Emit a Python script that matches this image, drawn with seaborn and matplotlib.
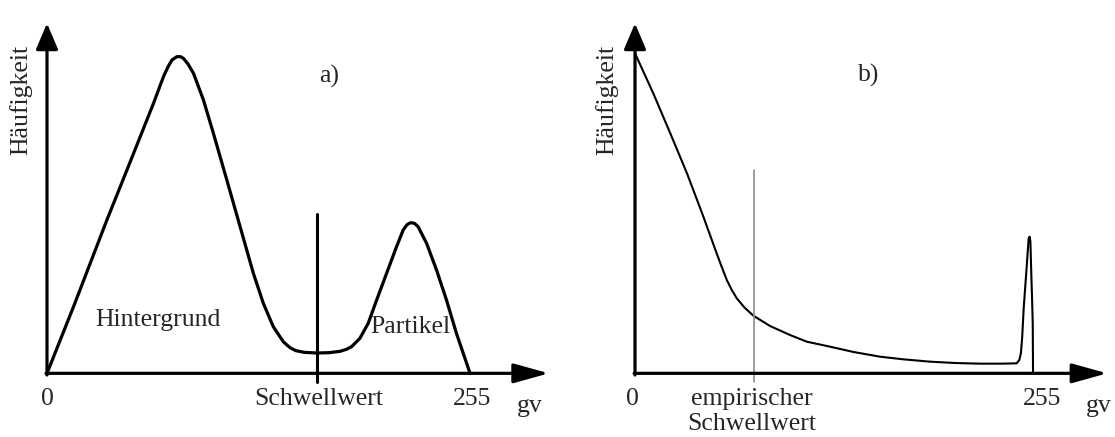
import matplotlib
matplotlib.use("Agg")
import matplotlib.pyplot as plt
import seaborn as sns
import pandas as pd

# panel a) bimodal histogram (gv, Häufigkeit)
a_gv = [0, 16, 36.1, 48.2, 56.2, 64.2, 70.2, 73, 75.3, 78.3, 80.5, 82.2, 85, 88.3,
        94.3, 100.3, 108.4, 116.4, 124.4, 130.4, 136.4, 142.4, 146.5, 150, 155,
        162.5, 170, 176.6, 180.5, 183.6, 188.6, 193.6, 198.7, 204.7, 210.7, 214.7,
        217, 219.1, 221.5, 223.7, 228.8, 234.8, 240.8, 246.8, 255]
a_h = [0, 20, 46, 61, 71, 81, 89, 92, 94, 95, 95, 94.5, 92.8, 90,
       82, 72, 58, 44, 30, 21, 14, 9.5, 7.7, 6.8, 6.3,
       6.1, 6.2, 6.6, 7.2, 8, 10.5, 15, 22, 30, 38, 43,
       44.6, 45.2, 45, 44, 39, 31, 22, 12, 0]
a_thresh_gv = [162.5, 162.5]
a_thresh_h = [47.7, -2.5]

# panel b) unimodal histogram with a narrow peak near 255
b_gv = [0, 11.7, 22.6, 33.3, 43.8, 52.3, 55.5, 58.8, 62, 65.2, 70, 75.8, 86.5,
        99.3, 110, 124.9, 140, 156.9, 172, 189, 205, 221, 235, 244.5, 246.2,
        247.2, 248, 249, 250, 250.7, 251.5, 252.2, 252.8, 253.3, 253.9, 254.4,
        254.8, 255]
b_h = [96, 84, 72, 60, 47, 36, 32, 28, 25, 22.5, 19.8, 17.3, 14.2,
       11.5, 9.5, 8, 6.4, 5, 4.2, 3.5, 3.1, 2.9, 2.9, 3, 4,
       6, 10.5, 19.5, 26, 30.5, 36, 40.5, 41, 39.5, 29.5, 22,
       15, 0]
b_thresh_gv = [76.5, 76.5]
b_thresh_h = [61, -2.5]

sns.set_style("white")
plt.rcParams['font.family'] = ['Liberation Serif', 'DejaVu Serif']
fs = 18.5

fig = plt.figure(figsize=(11.15, 4.37), dpi=100)
W, H = 1115.0, 437.0
# axes placed so that gv 0 sits at the drawn origin (pixel layout of the sketch)
ax_a = fig.add_axes([30.4 / W, 37 / H, (553.0 - 30.4) / W, 400 / H])
ax_b = fig.add_axes([619.4 / W, 37 / H, (1111.1 - 619.4) / W, 400 / H])

def draw_axes(ax):
    ax.set_xlim(-10, 305)
    ax.set_ylim(-8, 112)
    ax.axis("off")
    xarrow = dict(arrowstyle="-|>,head_length=0.54,head_width=0.15", lw=2.3,
                  color="black", mutation_scale=40, shrinkA=0, shrinkB=0)
    yarrow = dict(arrowstyle="-|>,head_length=0.40,head_width=0.17", lw=2.3,
                  color="black", mutation_scale=40, shrinkA=0, shrinkB=0)
    ax.annotate("", xy=(302.5, 0), xytext=(-0.6, 0), arrowprops=xarrow)
    ax.annotate("", xy=(0, 105), xytext=(0, -0.5), arrowprops=yarrow)

draw_axes(ax_a)
draw_axes(ax_b)

df_a = pd.DataFrame({"gv": a_gv, "h": a_h})
sns.lineplot(data=df_a, x="gv", y="h", ax=ax_a, color="black", lw=2.3,
             sort=False, estimator=None)
ax_a.plot(a_thresh_gv, a_thresh_h, color="black", lw=2.2, clip_on=False)

df_b = pd.DataFrame({"gv": b_gv, "h": b_h})
sns.lineplot(data=df_b, x="gv", y="h", ax=ax_b, color="black", lw=1.5,
             sort=False, estimator=None)
ax_b.plot(b_thresh_gv, b_thresh_h, color="#8c8c8c", lw=1.2, clip_on=False)

# texts panel a
ax_a.text(0, -4.5, "0", ha="center", va="top", fontsize=fs)
ax_a.text(164, -4.5, "Schwellwert", ha="center", va="top", fontsize=fs)
ax_a.text(256.3, -4.5, "255", ha="center", va="top", fontsize=fs)
ax_a.text(291, -6.5, "gv", ha="center", va="top", fontsize=fs)
ax_a.text(170, 89, "a)", ha="center", va="center", fontsize=fs)
ax_a.text(66.6, 16, "Hintergrund", ha="center", va="center", fontsize=fs)
ax_a.text(219.3, 14, "Partikel", ha="center", va="center", fontsize=fs)
ax_a.text(-16, 82, "Häufigkeit", ha="center", va="center", rotation=90, fontsize=fs)

# texts panel b
ax_b.text(-1.5, -4.5, "0", ha="center", va="top", fontsize=fs)
ax_b.text(75, -4.5, "empirischer\nSchwellwert", ha="center", va="top",
          fontsize=fs, linespacing=1.15)
ax_b.text(260.6, -4.5, "255", ha="center", va="top", fontsize=fs)
ax_b.text(297, -6.5, "gv", ha="center", va="top", fontsize=fs)
ax_b.text(150, 89.5, "b)", ha="center", va="center", fontsize=fs)
ax_b.text(-18, 82, "Häufigkeit", ha="center", va="center", rotation=90, fontsize=fs)

plt.savefig("out.png", dpi=100)
